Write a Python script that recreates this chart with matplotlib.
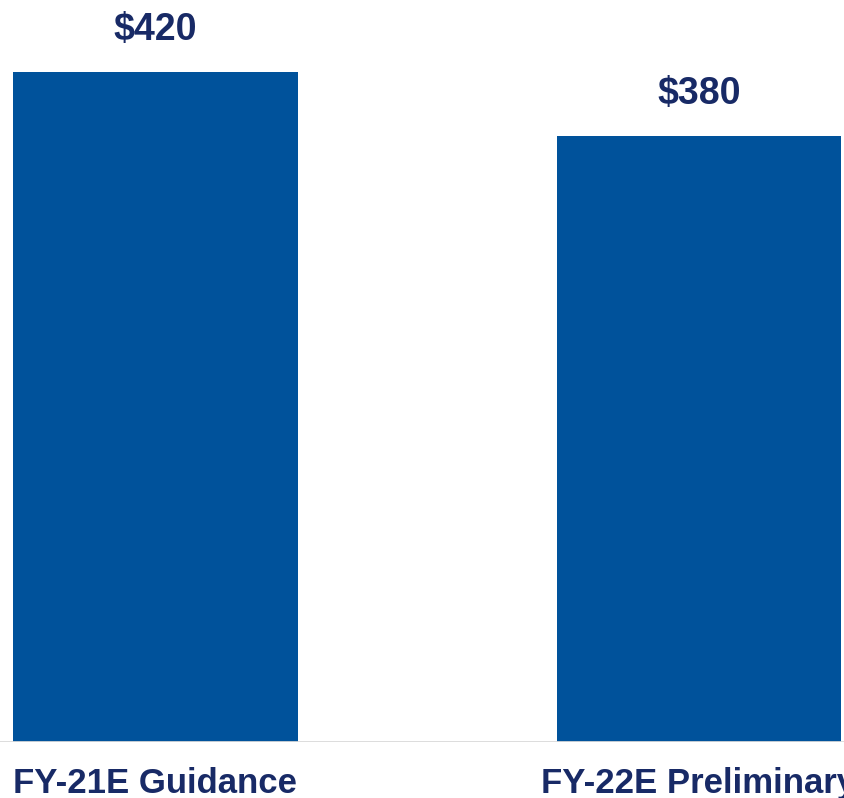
import matplotlib
matplotlib.use('Agg')
import matplotlib.pyplot as plt

# Chart data
categories = ['FY-21E Guidance', 'FY-22E Preliminary']
values = [420, 380]
value_labels = ['$420', '$380']

bar_color = '#00529B'
text_color = '#182A66'

plt.rcParams['font.family'] = ['Liberation Sans', 'DejaVu Sans']

fig = plt.figure(figsize=(8.44, 7.98), dpi=100)
ax = fig.add_axes([0, 0.0702, 1, 0.9298])

x = list(range(len(categories)))
ax.bar(x, values, width=0.524, color=bar_color)

# Value labels above bars
for xi, v, lab in zip(x, values, value_labels):
    ax.text(xi, v + 26, lab, ha='center', va='center', fontsize=27,
            fontweight='bold', color=text_color)

# Category labels below baseline
for xi, cat in zip(x, categories):
    ax.text(xi, -26, cat, ha='center', va='center', fontsize=25,
            fontweight='bold', color=text_color, clip_on=False)

ax.axhline(0, color='#d9d9d9', linewidth=2)

ax.set_xlim(-0.2861, 1.2668)
ax.set_ylim(0, 465)
ax.axis('off')

fig.savefig('out.png', dpi=100)
